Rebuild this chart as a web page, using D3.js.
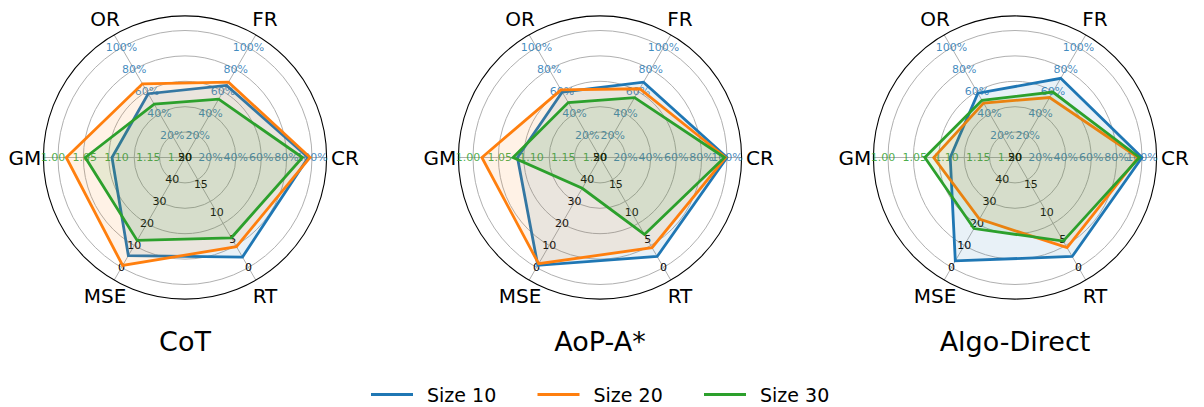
<!DOCTYPE html>
<html>
<head>
<meta charset="utf-8">
<script src="https://cdn.jsdelivr.net/npm/d3@7"></script>
<style>
  html, body { margin: 0; padding: 0; background: #fff; }
  svg { display: block; font-family: "DejaVu Sans", sans-serif; }
</style>
</head>
<body>
<svg id="chart" width="1204" height="407"></svg>
<script>
// ---------- data ----------
const axisNames = ["CR", "FR", "OR", "GM", "MSE", "RT"];
const axisAngles = [0, 60, 120, 180, 240, 300];
const methods = ["CoT", "AoP-A*", "Algo-Direct"];
const seriesNames = ["Size 10", "Size 20", "Size 30"];
const seriesColors = ["#1f77b4", "#ff7f0e", "#2ca02c"];

// values per axis: CR(%), FR(%), OR(%), GM, MSE, RT
const cotSize10 = [97, 65.5, 58, 1.085, 5.4, 1.9];
const cotSize20 = [98.5, 68.5, 67, 1.013, 0.9, 3.8];
const cotSize30 = [92.5, 53, 48.5, 1.043, 12.3, 5.4];

const aopSize10 = [100, 68.5, 59.5, 1.07, 1.0, 2.0];
const aopSize20 = [99, 62.5, 61.5, 1.014, 1.7, 3.6];
const aopSize30 = [98, 54.5, 50, 1.063, 36, 6.0];

const algoSize10 = [100, 72, 58.5, 1.098, 3.0, 2.0];
const algoSize20 = [97, 54.5, 49.5, 1.072, 22, 3.6];
const algoSize30 = [98, 59.5, 52, 1.058, 17.7, 4.8];

const pctTicks = [20, 40, 60, 80, 100];
const gmTicks = [1.20, 1.15, 1.10, 1.05, 1.00];
const mseTicks = [50, 40, 30, 20, 10, 0];
const rtTicks = [20, 15, 10, 5, 0];

const methodData = [
  [cotSize10, cotSize20, cotSize30],
  [aopSize10, aopSize20, aopSize30],
  [algoSize10, algoSize20, algoSize30]
];

// ---------- layout ----------
const U = 127;
const centersX = [185, 600, 1015];
const cy = 157.5;

const pctScale = d3.scaleLinear().domain([0, 100]).range([0, U]);
const gmScale = d3.scaleLinear().domain([1.20, 1.00]).range([0, U]);
const mseScale = d3.scaleLinear().domain([50, 0]).range([0, U]);
const rtScale = d3.scaleLinear().domain([20, 0]).range([0, U]);
const axisScales = [pctScale, pctScale, pctScale, gmScale, mseScale, rtScale];
const rOuter = pctScale(111.5);
const rLabel = pctScale(126);

const svg = d3.select("#chart");

function pt(cx, angDeg, r) {
  const a = angDeg * Math.PI / 180;
  return [cx + r * Math.cos(a), cy - r * Math.sin(a)];
}

const pctFmt = d => d + "%";
const gmFmt = d3.format(".2f");

methods.forEach((m, mi) => {
  const cx = centersX[mi];
  const g = svg.append("g");

  // grid circles
  g.selectAll("circle.grid").data(pctTicks).join("circle")
    .attr("cx", cx).attr("cy", cy).attr("r", d => pctScale(d))
    .attr("fill", "none").attr("stroke", "#b0b0b0").attr("stroke-width", 1);

  // spokes
  axisAngles.forEach(a => {
    const p = pt(cx, a, rOuter);
    g.append("line").attr("x1", cx).attr("y1", cy).attr("x2", p[0]).attr("y2", p[1])
      .attr("stroke", "#b0b0b0").attr("stroke-width", 1);
  });

  // outer circle
  g.append("circle").attr("cx", cx).attr("cy", cy).attr("r", rOuter)
    .attr("fill", "none").attr("stroke", "#000").attr("stroke-width", 1.1);

  // tick labels
  const tickGroup = g.append("g").attr("font-size", 11)
    .attr("text-anchor", "middle").attr("dominant-baseline", "central");
  [0, 1, 2].forEach(ai => {
    pctTicks.forEach(t => {
      const p = pt(cx, axisAngles[ai], pctScale(t));
      tickGroup.append("text").attr("x", p[0]).attr("y", p[1])
        .attr("fill", "#1f77b4").attr("fill-opacity", 0.85).text(pctFmt(t));
    });
  });
  gmTicks.forEach(t => {
    const p = pt(cx, axisAngles[3], gmScale(t));
    tickGroup.append("text").attr("x", p[0] - 5).attr("y", p[1])
      .attr("fill", "#2ca02c").attr("fill-opacity", 0.85).text(gmFmt(t));
  });
  mseTicks.forEach(t => {
    const p = pt(cx, axisAngles[4], mseScale(t));
    tickGroup.append("text").attr("x", p[0]).attr("y", p[1])
      .attr("fill", "#000").text(t);
  });
  rtTicks.forEach(t => {
    const p = pt(cx, axisAngles[5], rtScale(t));
    tickGroup.append("text").attr("x", p[0]).attr("y", p[1])
      .attr("fill", "#000").text(t);
  });

  // axis labels
  axisNames.forEach((n, ai) => {
    const p = pt(cx, axisAngles[ai], rLabel);
    g.append("text").attr("x", p[0]).attr("y", p[1])
      .attr("text-anchor", "middle").attr("dominant-baseline", "central")
      .attr("font-size", 20).attr("fill", "#000").text(n);
  });

  // polygons
  const line = d3.line().curve(d3.curveLinearClosed);
  methodData[mi].forEach((vals, si) => {
    const pts = vals.map((v, ai) => pt(cx, axisAngles[ai], axisScales[ai](v)));
    g.append("path").attr("d", line(pts))
      .attr("fill", seriesColors[si]).attr("fill-opacity", 0.1).attr("stroke", "none");
    g.append("path").attr("d", line(pts))
      .attr("fill", "none").attr("stroke", seriesColors[si])
      .attr("stroke-width", 2.8).attr("stroke-linejoin", "miter");
  });

  // title
  g.append("text").attr("x", cx).attr("y", 351)
    .attr("text-anchor", "middle").attr("font-size", 27).attr("fill", "#000").text(m);
});

// legend
const legendX = [371, 537.5, 704];
const legend = svg.append("g");
seriesNames.forEach((s, i) => {
  legend.append("line").attr("x1", legendX[i]).attr("x2", legendX[i] + 42)
    .attr("y1", 394.5).attr("y2", 394.5)
    .attr("stroke", seriesColors[i]).attr("stroke-width", 2.8);
  legend.append("text").attr("x", legendX[i] + 56).attr("y", 394.5)
    .attr("dominant-baseline", "central").attr("font-size", 19).attr("fill", "#000").text(s);
});
</script>
</body>
</html>
